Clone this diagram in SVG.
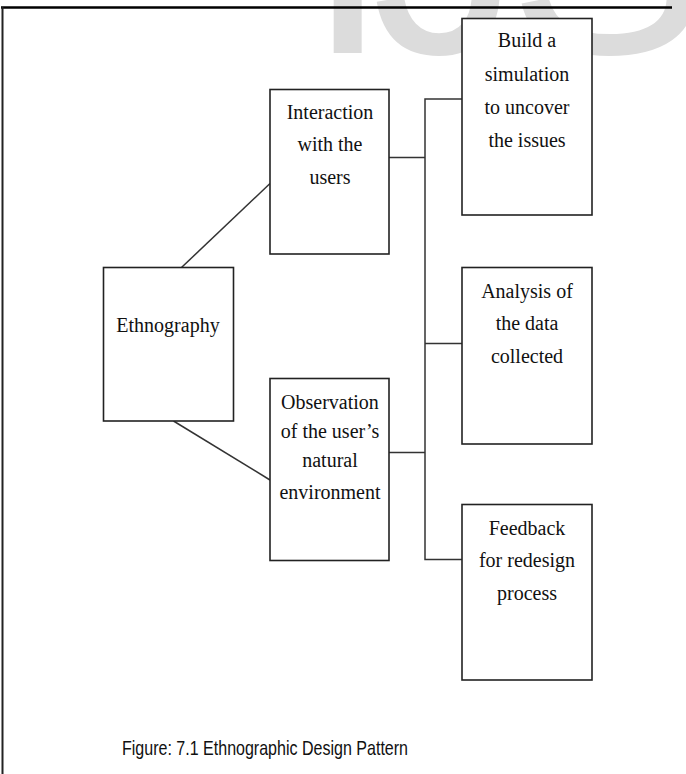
<svg xmlns="http://www.w3.org/2000/svg" width="686" height="774" viewBox="0 0 686 774">
<style>
.box{fill:#fff;stroke:#222;stroke-width:1.6}
.lbl{font-family:"Liberation Serif","Times New Roman",serif;font-size:20px;fill:#111;text-anchor:middle}
.conn{fill:none;stroke:#333;stroke-width:1.5}
.cap{font-family:"Liberation Sans",Arial,sans-serif;font-size:21px;fill:#111}
.wm{font-family:"Liberation Sans",Arial,sans-serif;font-size:300px;fill:#dcdcdc}
</style>
<rect x="0" y="0" width="686" height="774" fill="#fff"/>
<g id="watermark"><text class="wm" y="53"><tspan x="306">I</tspan><tspan x="372">J</tspan><tspan x="508">S</tspan></text></g>
<g id="frame">
<line x1="1" y1="7.5" x2="672" y2="7.5" stroke="#000" stroke-width="2.5"/>
<line x1="2.5" y1="7" x2="2.5" y2="774" stroke="#222" stroke-width="2"/>
</g>
<g id="connectors">
<line class="conn" x1="181.5" y1="267.5" x2="270" y2="183.5" stroke="#555"/>
<line class="conn" x1="173.5" y1="421" x2="270" y2="480" stroke="#555"/>
<line class="conn" x1="389" y1="157.5" x2="425" y2="157.5" stroke="#888" stroke-width="3.5"/>
<line class="conn" x1="389" y1="452.5" x2="425" y2="452.5"/>
<polyline class="conn" points="462,99 425,99 425,559.5 462,559.5"/>
<line class="conn" x1="425" y1="343.5" x2="462" y2="343.5"/>
</g>
<g id="ethnography">
<rect class="box" x="103.5" y="267.5" width="130" height="153.5"/>
<text class="lbl" x="168" y="332">Ethnography</text>
</g>
<g id="interaction">
<rect class="box" x="270" y="89.5" width="119" height="164.5"/>
<text class="lbl" x="330" y="119">Interaction</text>
<text class="lbl" x="330" y="151">with the</text>
<text class="lbl" x="330" y="184">users</text>
</g>
<g id="observation">
<rect class="box" x="270" y="378.5" width="119" height="182"/>
<text class="lbl" x="330" y="408.5">Observation</text>
<text class="lbl" x="330" y="438">of the user’s</text>
<text class="lbl" x="330" y="467">natural</text>
<text class="lbl" x="330" y="498.5">environment</text>
</g>
<g id="build">
<rect class="box" x="462" y="18.5" width="130" height="196.5"/>
<text class="lbl" x="527" y="47">Build a</text>
<text class="lbl" x="527" y="81">simulation</text>
<text class="lbl" x="527" y="114">to uncover</text>
<text class="lbl" x="527" y="147">the issues</text>
</g>
<g id="analysis">
<rect class="box" x="462" y="267.5" width="130" height="176.5"/>
<text class="lbl" x="527" y="297.5">Analysis of</text>
<text class="lbl" x="527" y="329.5">the data</text>
<text class="lbl" x="527" y="362.5">collected</text>
</g>
<g id="feedback">
<rect class="box" x="462" y="504.5" width="130" height="175.5"/>
<text class="lbl" x="527" y="535">Feedback</text>
<text class="lbl" x="527" y="567">for redesign</text>
<text class="lbl" x="527" y="599.5">process</text>
</g>
<g id="caption">
<text class="cap" x="122" y="755" textLength="286" lengthAdjust="spacingAndGlyphs">Figure: 7.1 Ethnographic Design Pattern</text>
</g>
</svg>
